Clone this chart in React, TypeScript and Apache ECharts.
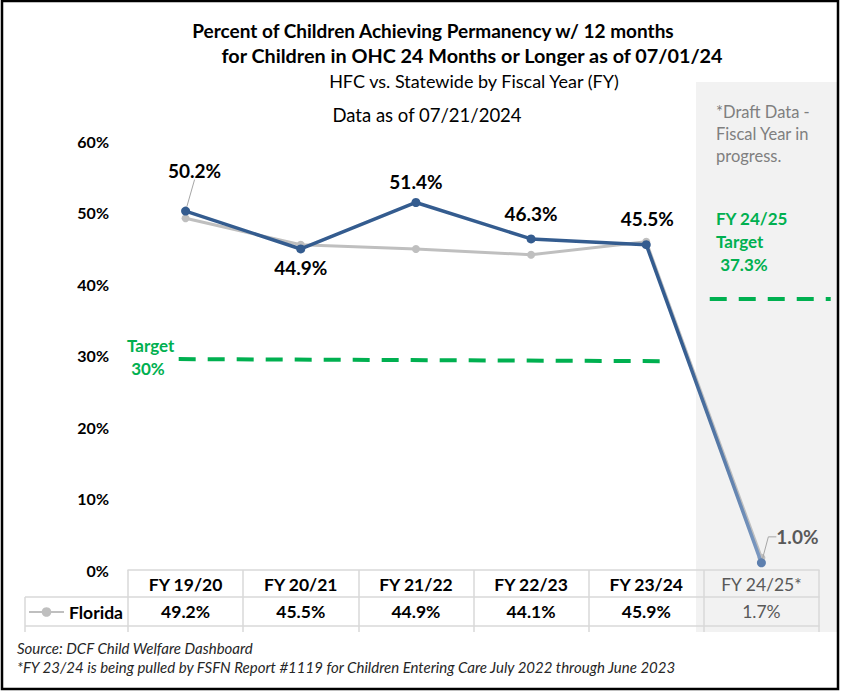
import React, { useEffect, useRef } from 'react';
import * as echarts from 'echarts';

// ---------- data ----------
const categories = ['FY 19/20', 'FY 20/21', 'FY 21/22', 'FY 22/23', 'FY 23/24', 'FY 24/25*'];
const hfcValues = [50.2, 44.9, 51.4, 46.3, 45.5, 1.0];
const floridaValues = [49.2, 45.5, 44.9, 44.1, 45.9, 1.7];
const yMin = 0;
const yMax = 60;
const yInterval = 10;
// target lines: [category-position, percent]
const target30Line = [[0.44, 29.5], [4.68, 29.2]];
const target2425Line = [[5.05, 37.9], [6.1, 37.9]];

const titleLines = [
  'Percent of Children Achieving Permanency w/ 12 months',
  'for Children in OHC 24 Months or Longer as of 07/01/24',
  'HFC vs. Statewide by Fiscal Year (FY)',
  'Data as of 07/21/2024',
];
const draftNote = ['*Draft Data -', 'Fiscal Year in', 'progress.'];
const target2425Note = ['FY 24/25', 'Target', ' 37.3%'];
const target30Note = ['Target', ' 30%'];
const footer = [
  'Source: DCF Child Welfare Dashboard',
  '*FY 23/24 is being pulled by FSFN Report #1119 for Children Entering Care July 2022 through June 2023',
];

// ---------- layout config ----------
const FONT = 'Lato, "Open Sans", sans-serif';
const labelOffsets = [[9, -41], [0, 19], [0, -21], [0, -25], [1, -26], [36, -26]];
const leaderLines: Record<number, any> = {
  0: { show: true, length2: 0 },
  5: { show: true, length2: 8 },
};
const draftIndex = 5;

export default function App() {
  const ref = useRef<HTMLDivElement>(null);

  useEffect(() => {
    if (!ref.current) return;
    const chart = echarts.init(ref.current, undefined, { renderer: 'svg' });

    const tableLine = { color: '#d9d9d9', width: 1.5 };

    const graphicEls: any[] = [
      {
        type: 'rect', z: -10, silent: true,
        shape: { x: 696, y: 82, width: 141, height: 550 },
        style: { fill: '#f2f2f2' },
      },
      {
        type: 'rect', z: 100, silent: true,
        shape: { x: 2, y: 1, width: 836, height: 688 },
        style: { fill: 'none', stroke: '#000', lineWidth: 2.5 },
      },
      { type: 'line', z: 5, silent: true, shape: { x1: 25, y1: 597, x2: 128, y2: 597 }, style: { stroke: '#d9d9d9', lineWidth: 1.5 } },
      { type: 'line', z: 5, silent: true, shape: { x1: 25, y1: 626, x2: 128, y2: 626 }, style: { stroke: '#d9d9d9', lineWidth: 1.5 } },
      { type: 'line', z: 5, silent: true, shape: { x1: 25, y1: 597, x2: 25, y2: 632 }, style: { stroke: '#d9d9d9', lineWidth: 1.5 } },
    ];

    const titleStyles = [
      { x: 433, y: 30, size: 19, weight: 'bold' },
      { x: 472, y: 55, size: 19.8, weight: 'bold' },
      { x: 474, y: 81, size: 18, weight: 'normal' },
      { x: 427, y: 115, size: 18.5, weight: 'normal' },
    ];
    titleLines.forEach((t, i) => {
      const s = titleStyles[i];
      graphicEls.push({
        type: 'text', x: s.x, y: s.y, silent: true,
        style: { text: t, fill: '#000', fontSize: s.size, fontWeight: s.weight, fontFamily: FONT, textAlign: 'center', textVerticalAlign: 'middle' },
      });
    });
    draftNote.forEach((t, i) => {
      graphicEls.push({
        type: 'text', x: 716, y: 112 + i * 22, silent: true,
        style: { text: t, fill: '#7f7f7f', fontSize: 16.5, fontFamily: FONT, textAlign: 'left', textVerticalAlign: 'middle' },
      });
    });
    target2425Note.forEach((t, i) => {
      graphicEls.push({
        type: 'text', x: 716, y: 218 + i * 23, silent: true,
        style: { text: t, fill: '#00b050', fontSize: 17, fontWeight: 'bold', fontFamily: FONT, textAlign: 'left', textVerticalAlign: 'middle' },
      });
    });
    target30Note.forEach((t, i) => {
      graphicEls.push({
        type: 'text', x: 127, y: 345 + i * 23, silent: true,
        style: { text: t, fill: '#00b050', fontSize: 17, fontWeight: 'bold', fontFamily: FONT, textAlign: 'left', textVerticalAlign: 'middle' },
      });
    });
    footer.forEach((t, i) => {
      graphicEls.push({
        type: 'text', x: 17, y: 648 + i * 19, silent: true,
        style: { text: t, fill: '#262626', fontSize: 15, fontStyle: 'italic', fontFamily: FONT, textAlign: 'left', textVerticalAlign: 'middle' },
      });
    });

    const cellRich = {
      b: { fontSize: 17.5, fontWeight: 'bold', color: '#000', fontFamily: FONT },
      d: { fontSize: 17.5, fontWeight: 'normal', color: '#595959', fontFamily: FONT },
    };

    const option: any = {
      animation: false,
      backgroundColor: '#ffffff',
      textStyle: { fontFamily: FONT },
      grid: [
        { left: 128, top: 141, width: 691, height: 429 },
        { left: 128, top: 141, width: 705, height: 429 },
      ],
      legend: {
        data: ['Florida'],
        left: 28,
        top: 603,
        padding: 0,
        itemWidth: 35,
        itemHeight: 12,
        selectedMode: false,
        textStyle: { fontSize: 17.5, fontWeight: 'bold', color: '#000', fontFamily: FONT },
      },
      xAxis: [
        {
          type: 'category', gridIndex: 0, position: 'bottom', data: categories,
          axisLine: { show: true, lineStyle: tableLine },
          axisTick: { show: true, interval: 0, length: 62, lineStyle: tableLine },
          axisLabel: {
            interval: 0, margin: 5,
            formatter: (v: string, i: number) => (i === draftIndex ? `{d|${v}}` : `{b|${v}}`),
            rich: cellRich,
          },
        },
        {
          type: 'category', gridIndex: 0, position: 'bottom', offset: 27, data: categories,
          axisLine: { show: true, lineStyle: tableLine },
          axisTick: { show: false },
          axisLabel: {
            interval: 0, margin: 5,
            formatter: (_v: string, i: number) => {
              const t = floridaValues[i].toFixed(1) + '%';
              return i === draftIndex ? `{d|${t}}` : `{b|${t}}`;
            },
            rich: cellRich,
          },
        },
        {
          type: 'category', gridIndex: 0, position: 'bottom', offset: 56, data: categories,
          axisLine: { show: true, lineStyle: tableLine },
          axisTick: { show: false },
          axisLabel: { show: false },
        },
        { type: 'value', gridIndex: 1, min: 0, max: 6.12, show: false },
      ],
      yAxis: [
        {
          type: 'value', gridIndex: 0, min: yMin, max: yMax, interval: yInterval,
          axisLine: { show: false }, axisTick: { show: false }, splitLine: { show: false },
          axisLabel: { formatter: '{value}%', fontSize: 16, fontWeight: 'bold', color: '#000', margin: 19, fontFamily: FONT },
        },
        { type: 'value', gridIndex: 1, min: yMin, max: yMax, show: false },
      ],
      series: [
        {
          name: 'Florida', type: 'line', xAxisIndex: 0, yAxisIndex: 0,
          data: floridaValues,
          symbol: 'circle', symbolSize: 8,
          itemStyle: { color: '#bfbfbf' },
          lineStyle: { color: '#bfbfbf', width: 3 },
          z: 2,
        },
        {
          name: 'HFC', type: 'line', xAxisIndex: 0, yAxisIndex: 0,
          data: hfcValues.map((v, i) => (leaderLines[i] ? { value: v, labelLine: leaderLines[i] } : { value: v })),
          symbol: 'circle', symbolSize: 9,
          itemStyle: { color: (p: any) => (p.dataIndex === draftIndex ? '#5d7fae' : '#345c8f') },
          lineStyle: {
            width: 3.5,
            color: new echarts.graphic.LinearGradient(0, 0, 1, 0, [
              { offset: 0, color: '#345c8f' },
              { offset: 0.86, color: '#345c8f' },
              { offset: 1, color: '#7d9ac2' },
            ]),
          },
          label: {
            show: true,
            formatter: (p: any) => {
              const t = Number(p.value).toFixed(1) + '%';
              return p.dataIndex === draftIndex ? `{g|${t}}` : `{k|${t}}`;
            },
            rich: {
              k: { fontSize: 19, fontWeight: 'bold', color: '#000', fontFamily: FONT },
              g: { fontSize: 19, fontWeight: 'bold', color: '#595959', fontFamily: FONT },
            },
          },
          labelLine: { show: false, lineStyle: { color: '#a6a6a6', width: 1 } },
          labelLayout: (p: any) => {
            const o = labelOffsets[p.dataIndex] || [0, -20];
            return {
              x: p.rect.x + p.rect.width / 2 + o[0],
              y: p.rect.y + p.rect.height / 2 + o[1],
              align: 'center',
              verticalAlign: 'middle',
            };
          },
          z: 3,
        },
        {
          name: 'Target 30%', type: 'line', xAxisIndex: 3, yAxisIndex: 1,
          data: target30Line, symbol: 'none', silent: true,
          lineStyle: { color: '#00b050', width: 4, type: [17, 12] },
          z: 1,
        },
        {
          name: 'FY 24/25 Target', type: 'line', xAxisIndex: 3, yAxisIndex: 1,
          data: target2425Line, symbol: 'none', silent: true,
          lineStyle: { color: '#00b050', width: 4, type: [17, 12] },
          z: 1,
        },
      ],
      graphic: { elements: graphicEls },
    };

    chart.setOption(option);
    return () => chart.dispose();
  }, []);

  return (
    <div
      ref={ref}
      style={{ position: 'absolute', left: 0, top: 0, width: 842, height: 692, background: '#fff' }}
    />
  );
}
